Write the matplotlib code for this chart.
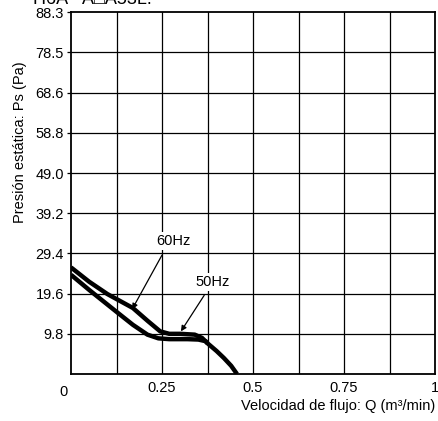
import numpy as np
import matplotlib.pyplot as plt

plt.rcParams['font.family'] = ['Liberation Sans', 'DejaVu Sans']

# Flow (m3/min) vs static pressure (Pa)
q_60 = [0.0, 0.05, 0.10, 0.17, 0.21, 0.245, 0.27, 0.30, 0.34, 0.36, 0.375, 0.40, 0.42, 0.44, 0.456]
p_60 = [26.0, 22.5, 19.5, 16.1, 13.0, 10.4, 9.8, 9.8, 9.6, 8.8, 7.5, 5.6, 3.9, 2.0, 0.0]

q_50 = [0.0, 0.05, 0.126, 0.17, 0.21, 0.24, 0.27, 0.32, 0.35, 0.37, 0.375]
p_50 = [24.2, 20.5, 15.1, 12.0, 9.6, 8.7, 8.5, 8.5, 8.4, 8.0, 7.5]

y_ticks = [9.8, 19.6, 29.4, 39.2, 49.0, 58.8, 68.6, 78.5, 88.3]
y_labels = ['9.8', '19.6', '29.4', '39.2', '49.0', '58.8', '68.6', '78.5', '88.3']
x_ticks = [0.25, 0.5, 0.75, 1.0]
x_labels = ['0.25', '0.5', '0.75', '1']
x_grid = np.arange(0.125, 1.0, 0.125)

fs = 10.5
W, H = 438, 421
fig = plt.figure(figsize=(W / 100, H / 100), dpi=100)
ax = fig.add_axes([71 / W, 1 - 374 / H, 364 / W, 362 / H])

ax.set_xlim(0, 1)
ax.set_ylim(0, 88.3)

for x in x_grid:
    ax.axvline(x, color='black', lw=0.9, zorder=1)
for y in y_ticks[:-1]:
    ax.axhline(y, color='black', lw=0.9, zorder=1)

ax.plot(q_60, p_60, color='black', lw=3.2, solid_capstyle='butt', zorder=3)
ax.plot(q_50, p_50, color='black', lw=3.2, solid_capstyle='butt', zorder=3)

ax.set_yticks(y_ticks)
ax.set_yticklabels(y_labels, fontsize=fs)
ax.set_xticks(x_ticks)
ax.set_xticklabels(x_labels, fontsize=fs)
ax.tick_params(axis='y', direction='out', length=3, width=0.9, pad=2)
ax.tick_params(axis='x', length=0, pad=5)
for s in ax.spines.values():
    s.set_linewidth(1.3)

ax.text(-0.02, -2.6, '0', ha='center', va='top', fontsize=fs)

# curve labels with leader arrows (white box hides the grid behind the text)
box = dict(facecolor='white', edgecolor='none', pad=1.5)
ax.text(0.282, 32.5, '60Hz', ha='center', va='center', fontsize=fs, bbox=box, zorder=4)
ax.annotate('', xy=(0.168, 15.8), xytext=(0.25, 29.0),
            arrowprops=dict(arrowstyle='-|>', color='black', lw=0.9,
                            mutation_scale=8, shrinkA=0, shrinkB=0))
ax.text(0.39, 22.5, '50Hz', ha='center', va='center', fontsize=fs, bbox=box, zorder=4)
ax.annotate('', xy=(0.302, 10.4), xytext=(0.366, 19.2),
            arrowprops=dict(arrowstyle='-|>', color='black', lw=0.9,
                            mutation_scale=8, shrinkA=0, shrinkB=0))

fig.text(435 / W, 1 - 406 / H, 'Velocidad de flujo: Q (m³/min)',
         ha='right', va='center', fontsize=fs)
fig.text(20 / W, 1 - 142 / H, 'Presión estática: Ps (Pa)',
         ha='center', va='center', rotation=90, fontsize=fs)

# model name at the very top, cut off in the source image
fig.text(33 / W, 1 - 4 / H, 'H6A - A□A53L.', ha='left', va='baseline', fontsize=13)

fig.savefig('out.png', dpi=100)
